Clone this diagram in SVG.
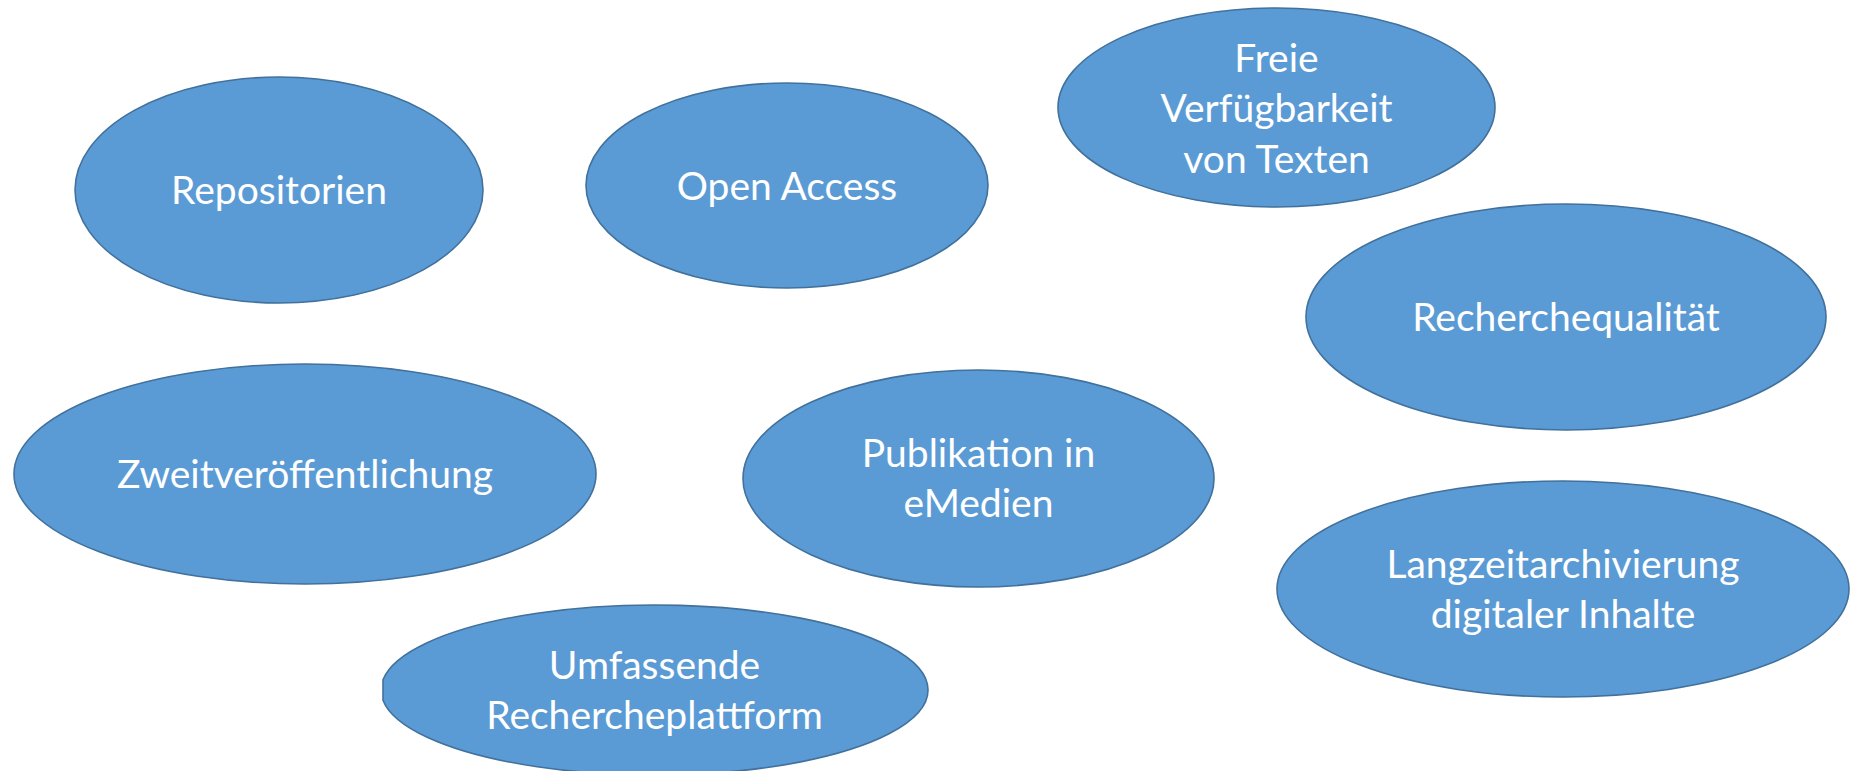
<svg xmlns="http://www.w3.org/2000/svg" width="1852" height="771" viewBox="0 0 1852 771">
<style>
.n{fill:#5B9BD5;stroke:#41719C;stroke-width:1.6}
.t{fill:#FFFFFF;font-family:Lato,"Open Sans","Liberation Sans",sans-serif;font-size:39px;text-anchor:middle}
</style>
<rect width="1852" height="771" fill="#FFFFFF"/>
<g id="connectors"></g>
<g id="repositorien"><ellipse class="n" cx="279" cy="190" rx="204" ry="113"/><text class="t" x="279" y="204">Repositorien</text></g>
<g id="open-access"><ellipse class="n" cx="787" cy="185.5" rx="201" ry="102.5"/><text class="t" x="787" y="200">Open Access</text></g>
<g id="freie-verfuegbarkeit"><ellipse class="n" cx="1276.5" cy="107.5" rx="218.5" ry="99.5"/><text class="t" x="1276.5" y="72">Freie</text><text class="t" x="1276.5" y="122">Verfügbarkeit</text><text class="t" x="1276.5" y="173">von Texten</text></g>
<g id="recherchequalitaet"><ellipse class="n" cx="1566" cy="317" rx="260" ry="113"/><text class="t" x="1566" y="331">Recherchequalität</text></g>
<g id="zweitveroeffentlichung"><ellipse class="n" cx="305" cy="474" rx="291" ry="110"/><text class="t" x="305" y="488">Zweitveröffentlichung</text></g>
<g id="publikation"><ellipse class="n" cx="978.5" cy="478.5" rx="235.5" ry="108.5"/><text class="t" x="978.5" y="467">Publikation in</text><text class="t" x="978.5" y="517">eMedien</text></g>
<g id="langzeitarchivierung"><ellipse class="n" cx="1563" cy="589" rx="286" ry="108"/><text class="t" x="1563" y="578">Langzeitarchivierung</text><text class="t" x="1563" y="628">digitaler Inhalte</text></g>
<g id="umfassende"><path class="n" d="M383,679.8 A273.5 85 0 1 1 383,700.2 Z"/><text class="t" x="654.5" y="679">Umfassende</text><text class="t" x="654.5" y="729">Rechercheplattform</text></g>
</svg>
